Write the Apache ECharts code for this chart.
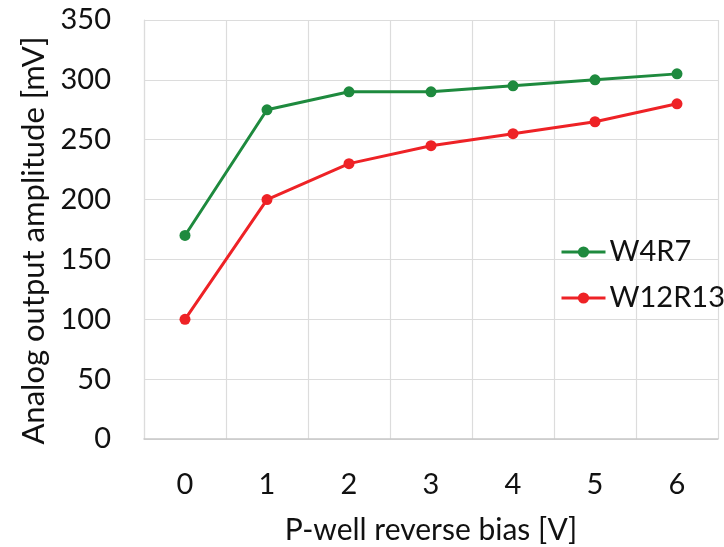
<!DOCTYPE html>
<html><head><meta charset="utf-8">
<script src="https://cdn.jsdelivr.net/npm/echarts@6/dist/echarts.min.js"></script>
<style>html,body{margin:0;padding:0;background:#fff}#c{width:724px;height:547px}</style>
</head><body><div id="c"></div>
<script>
const categories = ['0','1','2','3','4','5','6'];
const w4r7 = [170, 275, 290, 290, 295, 300, 305];
const w12r13 = [100, 200, 230, 245, 255, 265, 280];
const seriesNames = ['W4R7', 'W12R13'];
const FONT = 'Lato';
const FS = 29;
const chart = echarts.init(document.getElementById('c'));
chart.setOption({
  animation: false,
  textStyle: {fontFamily: FONT},
  grid: {left: 144, right: 6, top: 20, bottom: 108, outerBoundsMode: 'none', containLabel: false},
  legend: {
    orient: 'vertical', left: 555, top: 232, itemWidth: 44, itemHeight: 14, itemGap: 16,
    lineStyle: {width: 3},
    textStyle: {fontSize: FS, lineHeight: 30, color: '#111', fontFamily: FONT, padding: [0, 0, 0, -1]},
    data: seriesNames
  },
  xAxis: {
    type: 'category', data: categories, boundaryGap: true,
    name: 'P-well reverse bias [V]', nameLocation: 'middle', nameGap: 76,
    nameTextStyle: {fontSize: 30, color: '#111', fontFamily: FONT},
    axisLine: {lineStyle: {color: '#c8c8c8', width: 1.5}},
    axisTick: {show: false},
    axisLabel: {fontSize: FS, color: '#111', margin: 31, fontFamily: FONT},
    splitLine: {show: true, lineStyle: {color: '#dcdcdc', width: 1.2}}
  },
  yAxis: {
    type: 'value', min: 0, max: 350, interval: 50,
    name: 'Analog output amplitude [mV]', nameLocation: 'middle', nameGap: 94,
    nameTextStyle: {fontSize: 31, color: '#111', fontFamily: FONT, padding: [0, 22, 0, 0]},
    axisLine: {show: true, lineStyle: {color: '#dcdcdc', width: 1.2}},
    axisTick: {show: false},
    axisLabel: {fontSize: FS, color: '#111', margin: 33, fontFamily: FONT},
    splitLine: {show: true, lineStyle: {color: '#dcdcdc', width: 1.2}}
  },
  series: [
    {name: seriesNames[0], type: 'line', data: w4r7, symbol: 'circle', symbolSize: 11,
     itemStyle: {color: '#1e8a3e'}, lineStyle: {color: '#1e8a3e', width: 3}},
    {name: seriesNames[1], type: 'line', data: w12r13, symbol: 'circle', symbolSize: 11,
     itemStyle: {color: '#ee2226'}, lineStyle: {color: '#ee2226', width: 3}}
  ]
});
</script></body></html>
